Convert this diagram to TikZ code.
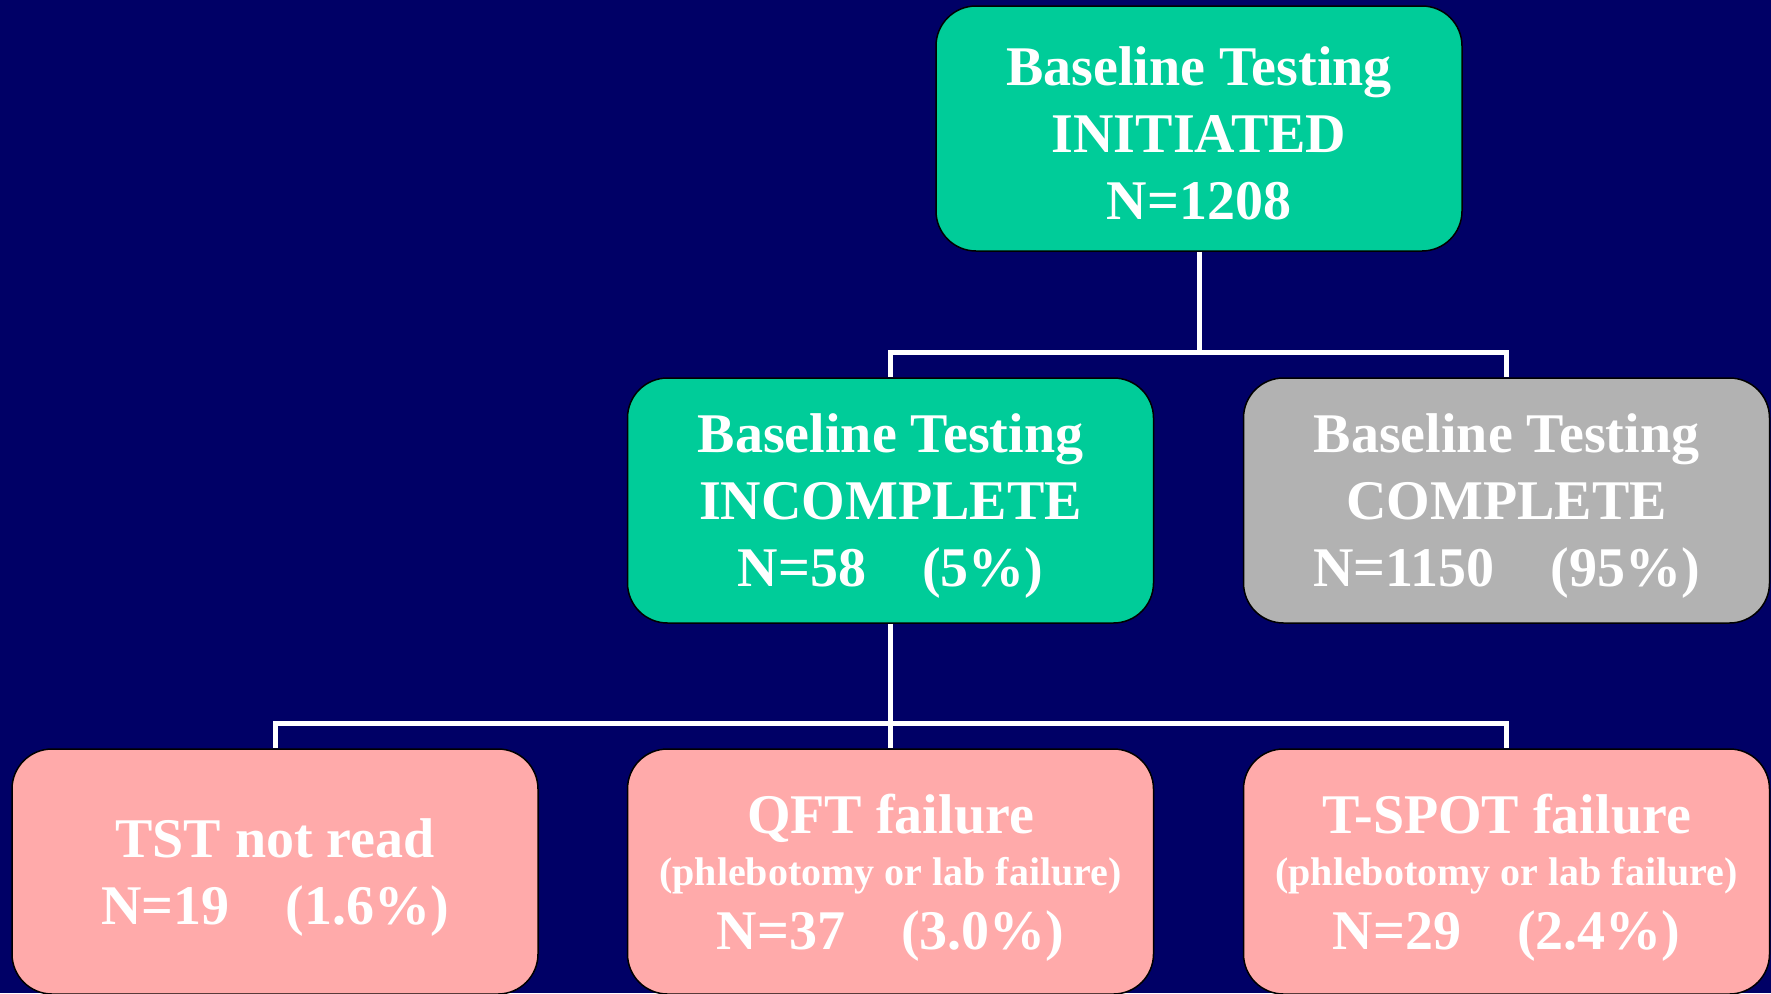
\documentclass[tikz,border=0pt]{standalone}
\usepackage{fontspec}
\setmainfont{Liberation Serif}
\definecolor{navybg}{RGB}{0,0,102}
\definecolor{boxgreen}{RGB}{0,204,153}
\definecolor{boxgray}{RGB}{178,178,178}
\definecolor{boxpink}{RGB}{255,170,170}
\tikzset{
  stagebox/.style={draw=black,line width=1.5pt,rounded corners=40pt,
    minimum width=526pt,minimum height=245pt,inner sep=0pt,align=center,
    text depth=-6pt,text=white,font=\fontsize{56}{67}\selectfont\bfseries},
  link/.style={draw=white,line width=5pt}
}
\newcommand{\smallline}[1]{{\fontsize{40}{48}\selectfont #1}}
\begin{document}
\begin{tikzpicture}[x=1pt,y=-1pt]
% Background
\useasboundingbox (0,0) rectangle (1771,993);
\fill[navybg] (0,0) rectangle (1771,993);
\clip (0,0) rectangle (1771,993);

% Boxes
\node[stagebox,fill=boxgreen] (init) at (1199,128.5) {\rule{0pt}{47pt}Baseline Testing\\INITIATED\\N=1208};
\node[stagebox,fill=boxgreen] (incomplete) at (890.5,500.5) {Baseline Testing\\INCOMPLETE\\N=58\quad(5\%)};
\node[stagebox,fill=boxgray] (complete) at (1506.5,500.5) {Baseline Testing\\COMPLETE\\N=1150\quad(95\%)};
\node[stagebox,fill=boxpink] (tst) at (275,871.5) {TST not read\\N=19\quad(1.6\%)};
\node[stagebox,fill=boxpink] (qft) at (890.5,871.5) {QFT failure\\[-15pt]\smallline{(phlebotomy or lab failure)}\\[-3pt]N=37\quad(3.0\%)};
\node[stagebox,fill=boxpink] (tspot) at (1506.5,871.5) {T-SPOT failure\\[-15pt]\smallline{(phlebotomy or lab failure)}\\[-3pt]N=29\quad(2.4\%)};

% Connectors
\coordinate (fork1) at (1199,352);
\coordinate (fork2) at (890.5,723);
\draw[link] (init.south) -- (fork1);
\draw[link] (fork1) -| (incomplete.north);
\draw[link] (fork1) -| (complete.north);
\draw[link] (incomplete.south) -- (fork2);
\draw[link] (fork2) -| (tst.north);
\draw[link] (fork2) -- (qft.north);
\draw[link] (fork2) -| (tspot.north);
\end{tikzpicture}
\end{document}
